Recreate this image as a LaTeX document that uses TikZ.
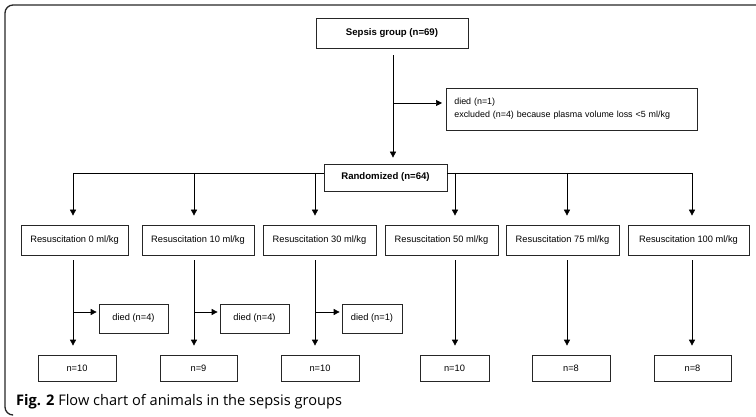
\documentclass[tikz,border=0pt]{standalone}
\usepackage{fontspec}
\setmainfont{Liberation Sans}
\newfontfamily\capfont{Open Sans}
\usetikzlibrary{arrows.meta}
\tikzset{
  box/.style={draw=black!85, line width=0.7pt, inner sep=0pt, font=\fontsize{9.3}{11}\selectfont, align=center},
  arr/.style={draw=black, line width=0.7pt, -{Triangle[length=6pt,width=6pt]}},
  ln/.style={draw=black, line width=0.7pt},
}
\begin{document}
\begin{tikzpicture}[x=1pt,y=-1pt]
\useasboundingbox (0,0) rectangle (756,417);
% frame
\draw[line width=1.3pt, black!85, rounded corners=8pt] (757,5) -- (5,5) -- (5,415) -- (12,415);
% top boxes
\node[box, minimum width=152pt, minimum height=30pt, font=\fontsize{9.6}{12}\selectfont\bfseries] (sep) at (392,33) {Sepsis group (n=69)};
\node[box, minimum width=251pt, minimum height=42pt, align=left, anchor=west, text width=235pt, font=\fontsize{8.9}{11}\selectfont] (d0) at (446,109) {died (n=1)\\[2pt]excluded (n=4) because plasma volume loss <5 ml/kg};
\node[box, minimum width=123pt, minimum height=27pt, font=\fontsize{9.6}{12}\selectfont\bfseries] (rnd) at (385.5,177.5) {Randomized (n=64)};
\coordinate (b0) at (393,103);
\draw[arr, shorten <=7pt] (sep.south -| b0) -- ([yshift=6pt]rnd.north -| b0);
\draw[arr, shorten >=4pt] (b0) -- (b0 -| d0.west);
% resuscitation boxes
\node[box, minimum width=107pt, minimum height=30pt] (r1) at (74.5,240) {Resuscitation 0 ml/kg};
\node[box, minimum width=112pt, minimum height=30pt] (r2) at (198,240) {Resuscitation 10 ml/kg};
\node[box, minimum width=113pt, minimum height=30pt] (r3) at (319.5,240) {Resuscitation 30 ml/kg};
\node[box, minimum width=113pt, minimum height=30pt] (r4) at (441.5,240) {Resuscitation 50 ml/kg};
\node[box, minimum width=113pt, minimum height=30pt] (r5) at (562.5,240) {Resuscitation 75 ml/kg};
\node[box, minimum width=121pt, minimum height=30pt] (r6) at (688.5,240) {Resuscitation 100 ml/kg};
% died boxes
\node[box, minimum width=69pt, minimum height=29pt] (d1) at (133.5,318.5) {died (n=4)};
\node[box, minimum width=69pt, minimum height=29pt] (d2) at (254.5,318.5) {died (n=4)};
\node[box, minimum width=60pt, minimum height=29pt] (d3) at (372,318.5) {died (n=1)};
% final boxes
\node[box, minimum width=78pt, minimum height=26pt] (n1) at (77,368) {n=10};
\node[box, minimum width=77pt, minimum height=26pt] (n2) at (198.5,368) {n=9};
\node[box, minimum width=78pt, minimum height=26pt] (n3) at (320,368) {n=10};
\node[box, minimum width=69pt, minimum height=26pt] (n4) at (454.5,368) {n=10};
\node[box, minimum width=78pt, minimum height=26pt] (n5) at (571,368) {n=8};
\node[box, minimum width=77pt, minimum height=26pt] (n6) at (692.5,368) {n=8};
% column coordinates
\coordinate (c1) at (73,173);
\coordinate (c2) at (194,173);
\coordinate (c3) at (315,173);
\coordinate (c4) at (455,173);
\coordinate (c5) at (567,173);
\coordinate (c6) at (692,173);
\draw[ln] (rnd.west |- c1) -- (c1);
\draw[ln] (rnd.east |- c6) -- (c6);
\foreach \i in {1,...,6}{
  \draw[arr, shorten >=9pt] (c\i) -- (r\i.north -| c\i);
  \draw[arr, shorten <=5pt, shorten >=9pt] (r\i.south -| c\i) -- (n\i.north -| c\i);
}
\foreach \i in {1,2,3}{
  \coordinate (s\i) at (c\i |- 0,312);
  \draw[arr, shorten >=2pt] (s\i) -- (s\i -| d\i.west);
}
% caption
\node[anchor=west, inner sep=0pt, font=\capfont\fontsize{14.6}{16}\selectfont] (cap) at (16,402) {\textbf{Fig. 2} Flow chart of animals in the sepsis groups};
\end{tikzpicture}
\end{document}
